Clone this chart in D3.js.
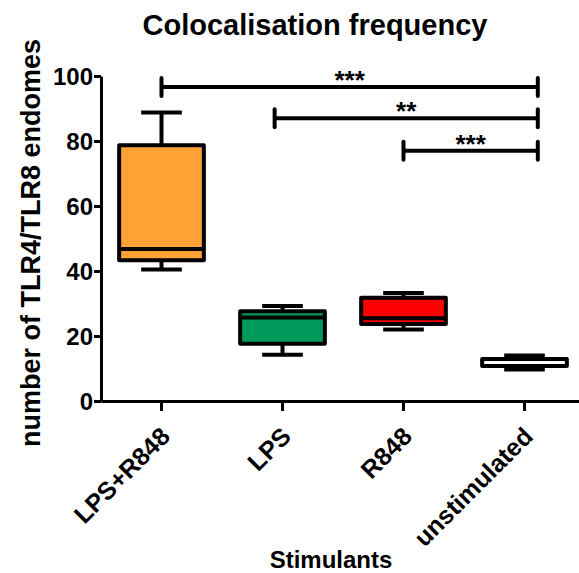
<!DOCTYPE html>
<html>
<head>
<meta charset="utf-8">
<script src="https://cdn.jsdelivr.net/npm/d3@7"></script>
<style>
  body { margin: 0; background: #fff; }
  svg { display: block; font-family: "Liberation Sans", Arial, sans-serif; }
  .axis path, .axis line { stroke: #000; stroke-width: 3; }
  .axis text { font-size: 24px; font-weight: bold; fill: #000; }
</style>
</head>
<body>
<div id="chart"></div>
<script>
const W = 579, H = 573;
const MARGIN = { top: 76, right: -6, bottom: 172, left: 101 };

// box plot summary per stimulant
const categories = ["LPS+R848", "LPS", "R848", "unstimulated"];
const mins = [40.5, 14.2, 22.0, 9.7];
const q1s = [43.3, 17.6, 23.7, 10.8];
const medians = [46.8, 25.7, 25.5, 12.9];
const q3s = [78.7, 27.6, 31.8, 12.9];
const maxs = [88.8, 29.2, 33.2, 14.0];
const fills = ["#ffa135", "#009b5b", "#ff0000", "#ffffff"];
const yTicks = [0, 20, 40, 60, 80, 100];

// significance brackets, positions in category index units
const bracketFrom = [0, 0.935, 2];
const bracketTo = [3.11, 3.11, 3.11];
const bracketLevel = [96.6, 87.0, 77.0];
const bracketLabel = ["***", "**", "***"];

const svg = d3.select("#chart").append("svg").attr("width", W).attr("height", H);

const x = d3.scaleBand().domain(categories).range([MARGIN.left, W - MARGIN.right])
  .paddingInner(0.3).paddingOuter(0.15);
const xi = d3.scaleLinear().domain([-0.5, categories.length - 0.5]).range([MARGIN.left, W - MARGIN.right]);
const y = d3.scaleLinear().domain([0, 100]).range([H - MARGIN.bottom, MARGIN.top]);

// y axis
const yAxis = svg.append("g")
  .attr("class", "axis")
  .attr("transform", `translate(${MARGIN.left},0)`)
  .call(d3.axisLeft(y).tickValues(yTicks).tickSize(7).tickSizeOuter(0).tickPadding(1));
yAxis.selectAll("text").attr("dy", "0.36em");

// x axis
const xAxis = svg.append("g")
  .attr("class", "axis")
  .attr("transform", `translate(0,${y(0)})`)
  .call(d3.axisBottom(x).tickSize(10).tickSizeOuter(0));
xAxis.selectAll("text")
  .attr("text-anchor", "end")
  .attr("dy", null)
  .attr("y", null)
  .style("font-size", "25px")
  .attr("transform", "translate(10,37) rotate(-45)");

const boxes = categories.map((c, i) => ({
  c, min: mins[i], q1: q1s[i], med: medians[i], q3: q3s[i], max: maxs[i], fill: fills[i]
}));

const bw = x.bandwidth();
const capW = bw * 0.48;

const g = svg.append("g").attr("stroke", "#000").attr("stroke-width", 4);

boxes.forEach((d) => {
  const cx = x(d.c) + bw / 2;
  const gb = g.append("g");
  gb.append("line").attr("x1", cx).attr("x2", cx).attr("y1", y(d.max)).attr("y2", y(d.q3));
  gb.append("line").attr("x1", cx).attr("x2", cx).attr("y1", y(d.q1)).attr("y2", y(d.min));
  gb.append("line").attr("x1", cx - capW / 2).attr("x2", cx + capW / 2).attr("y1", y(d.max)).attr("y2", y(d.max));
  gb.append("line").attr("x1", cx - capW / 2).attr("x2", cx + capW / 2).attr("y1", y(d.min)).attr("y2", y(d.min));
  gb.append("rect")
    .attr("x", x(d.c)).attr("width", bw)
    .attr("y", y(d.q3)).attr("height", y(d.q1) - y(d.q3))
    .attr("fill", d.fill)
    .attr("stroke-linejoin", "round");
  gb.append("line").attr("x1", x(d.c)).attr("x2", x(d.c) + bw).attr("y1", y(d.med)).attr("y2", y(d.med));
});

// brackets
bracketFrom.forEach((f, i) => {
  const x1 = xi(f), x2 = xi(bracketTo[i]), yy = y(bracketLevel[i]);
  const bg = svg.append("g").attr("stroke", "#000").attr("stroke-width", 4).attr("stroke-linecap", "round");
  bg.append("line").attr("x1", x1).attr("x2", x2).attr("y1", yy).attr("y2", yy).attr("stroke-linecap", "butt");
  bg.append("line").attr("x1", x1).attr("x2", x1).attr("y1", yy - 9).attr("y2", yy + 9);
  bg.append("line").attr("x1", x2).attr("x2", x2).attr("y1", yy - 9).attr("y2", yy + 9);
  svg.append("text")
    .attr("x", (x1 + x2) / 2)
    .attr("y", yy + 2)
    .attr("text-anchor", "middle")
    .style("font-size", "26px").style("font-weight", "bold")
    .text(bracketLabel[i]);
});

// titles
svg.append("text")
  .attr("x", 315).attr("y", 35)
  .attr("text-anchor", "middle")
  .style("font-size", "29px").style("font-weight", "bold")
  .text("Colocalisation frequency");

svg.append("text")
  .attr("transform", "translate(40,243) rotate(-90)")
  .attr("text-anchor", "middle")
  .style("font-size", "27px").style("font-weight", "bold")
  .text("number of TLR4/TLR8 endomes");

svg.append("text")
  .attr("x", 331).attr("y", 568)
  .attr("text-anchor", "middle")
  .style("font-size", "24px").style("font-weight", "bold")
  .text("Stimulants");
</script>
</body>
</html>
